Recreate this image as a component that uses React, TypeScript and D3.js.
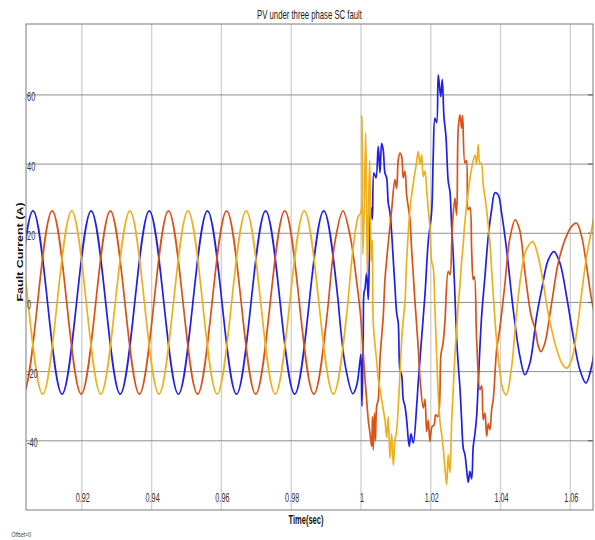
import React from 'react';
import * as d3 from 'd3';

const titleText = 'PV under three phase SC fault';
const xLabel = 'Time(sec)';
const yLabel = 'Fault Current (A)';
const offsetText = 'Offset=0';

const xTickValues = [0.92, 0.94, 0.96, 0.98, 1, 1.02, 1.04, 1.06];
const xTickLabels = ['0.92', '0.94', '0.96', '0.98', '1', '1.02', '1.04', '1.06'];
const yTickValues = [-40, -20, 0, 20, 40, 60];
const yTickLabels = ['-40', '-20', '0', '20', '40', '60'];

const seriesColors = ['#1f1fe6', '#d95319', '#edb120'];

// Phase A (blue) – steady state before the fault (peaks / zero crossings)
const phaseAPre: [number, number][] = [
  [0.90183, 0], [0.906, 26.5], [0.91017, 0], [0.91433, -26.5], [0.9185, 0], [0.92267, 26.5],
  [0.92683, 0], [0.931, -26.5], [0.93517, 0], [0.93933, 26.5], [0.9435, 0], [0.94767, -26.5],
  [0.95183, 0], [0.956, 26.5], [0.96017, 0], [0.96433, -26.5], [0.9685, 0], [0.97267, 26.5],
  [0.97683, 0], [0.981, -26.5], [0.98517, 0], [0.98933, 26.5], [0.9935, 0],
];
// Phase A (blue) – fault and recovery
const phaseAPost: [number, number][] = [
  [0.99558, -18.7], [0.99767, -26.4], [0.99877, -24], [0.99971, -17], [1.0, -15], [1.00029, -30],
  [1.00066, -9], [1.00086, 2.8], [1.00115, 4], [1.00163, 8.5], [1.00209, 0.8], [1.00238, 12],
  [1.00278, 27.7], [1.00324, 24], [1.00372, 37.5], [1.0043, 36], [1.00496, 45.1], [1.00544, 37.5],
  [1.00593, 46], [1.00639, 44], [1.00688, 37.4], [1.00736, 36], [1.00782, 28.7], [1.00831, 26],
  [1.0088, 20], [1.00926, 12.3], [1.00974, 4.6], [1.01023, -3.1], [1.01069, -6], [1.01117, -19.5],
  [1.01166, -21], [1.01212, -28.1], [1.01261, -30], [1.01309, -33.9], [1.01384, -41.6], [1.01433, -38],
  [1.01499, -40.6], [1.01596, -30], [1.01642, -23], [1.01739, -10.2], [1.01834, 2.2], [1.01928, 17.6],
  [1.02026, 26.3], [1.02072, 42.7], [1.0212, 53.3], [1.02169, 52], [1.02215, 65.8], [1.02284, 59.5],
  [1.0233, 64.4], [1.02378, 53.8], [1.02436, 48], [1.02501, 35], [1.0255, 32], [1.02599, 22],
  [1.02645, 13.8], [1.02693, 2], [1.02742, -10.3], [1.02788, -18], [1.02837, -24.7], [1.02885, -34],
  [1.02931, -42.1], [1.0298, -44], [1.03029, -48.4], [1.03074, -52], [1.03123, -48.8], [1.03172, -51],
  [1.03218, -41.6], [1.03266, -38], [1.03315, -32.9], [1.03361, -23.3], [1.03458, -4], [1.03553, 7.5],
  [1.03648, 19.1], [1.03745, 26.8], [1.0384, 31.7], [1.03934, 31.1], [1.04031, 25.8], [1.04175, 15.2],
  [1.04364, -2.1], [1.04556, -15.6], [1.04699, -20.9], [1.04842, -17.5], [1.05034, -4], [1.05178, 3.7],
  [1.05367, 12.3], [1.0553, 14.7], [1.05702, 11.4], [1.05894, 1.7], [1.06083, -9.8], [1.06275, -19.5],
  [1.06447, -23.3], [1.0661, -18.5], [1.06733, -10],
];

// Phase B (orange)
const phaseBPre: [number, number][] = [
  [0.899, 0], [0.90317, -26.5], [0.90733, 0], [0.9115, 26.5], [0.91567, 0], [0.91983, -26.5],
  [0.924, 0], [0.92817, 26.5], [0.93233, 0], [0.9365, -26.5], [0.94067, 0], [0.94483, 26.5],
  [0.949, 0], [0.95317, -26.5], [0.95733, 0], [0.9615, 26.5], [0.96567, 0], [0.96983, -26.5],
  [0.974, 0], [0.97817, 26.5], [0.98233, 0], [0.9865, -26.5], [0.99067, 0],
];
const phaseBPost: [number, number][] = [
  [0.99275, 18.7], [0.99483, 26.5], [0.99685, 19.5], [0.99877, 6], [1.0, -5], [1.00029, -9],
  [1.00066, -14.6], [1.00115, -22], [1.00163, -28.1], [1.00209, -34], [1.00258, -37.7], [1.00307, -41.6],
  [1.0033, -33], [1.00352, -42.6], [1.00387, -32], [1.00415, -40], [1.0045, -30], [1.00496, -28.1],
  [1.00544, -16.6], [1.00593, -9.8], [1.00639, -4], [1.00688, 6.6], [1.00782, 17.2], [1.00831, 22],
  [1.0088, 26.8], [1.00974, 35.5], [1.01023, 33], [1.01069, 41.2], [1.01117, 43.2], [1.01166, 42.2],
  [1.01212, 36], [1.01261, 38], [1.01309, 31], [1.01355, 27.7], [1.01404, 24], [1.01453, 15.2],
  [1.01499, 8], [1.01547, 0.3], [1.01642, -13.2], [1.01691, -21.8], [1.01785, -30.5], [1.01834, -28],
  [1.01883, -37.3], [1.01928, -34], [1.01977, -40.2], [1.02034, -36], [1.021, -35.3], [1.0214, -32.5],
  [1.02206, -33], [1.02292, -15.1], [1.0235, -12], [1.02407, -5.5], [1.02501, 9], [1.0255, 8],
  [1.02616, 21.5], [1.02693, 30.2], [1.02742, 25.3], [1.02788, 50.4], [1.02837, 54.2], [1.02885, 50.4],
  [1.02914, 54], [1.0298, 40.3], [1.03023, 41], [1.03074, 26.8], [1.03123, 27.5], [1.03172, 15.2],
  [1.03218, 6.6], [1.03252, 7.5], [1.03315, -10.8], [1.0341, -25.2], [1.03458, -24], [1.03504, -33.9],
  [1.03553, -32], [1.03602, -38.7], [1.03648, -35], [1.03696, -36.8], [1.03745, -31], [1.03791, -28.1],
  [1.03888, -13.7], [1.03974, -7.9], [1.04117, 4.6], [1.04261, 18.1], [1.04421, 23.9], [1.04547, 21],
  [1.0469, 9.5], [1.0488, -4], [1.04986, -7.5], [1.0508, -12.5], [1.05158, -14.2], [1.05272, -11.7],
  [1.05464, -0.2], [1.05653, 11.4], [1.05845, 18.1], [1.06037, 22], [1.0618, 22.9], [1.06324, 19.1],
  [1.06467, 10.4], [1.0661, 0.8], [1.06733, -5],
];

// Phase C (yellow)
const phaseCPre: [number, number][] = [
  [0.89627, 0], [0.90043, 26.5], [0.9046, 0], [0.90877, -26.5], [0.91293, 0], [0.9171, 26.5],
  [0.92127, 0], [0.92543, -26.5], [0.9296, 0], [0.93377, 26.5], [0.93793, 0], [0.9421, -26.5],
  [0.94627, 0], [0.95043, 26.5], [0.9546, 0], [0.95877, -26.5], [0.96293, 0], [0.9671, 26.5],
  [0.97127, 0], [0.97543, -26.5], [0.9796, 0], [0.98377, 26.5], [0.98793, 0], [0.9921, -26.5],
  [0.99627, 0],
];
const phaseCPost: [number, number][] = [
  [0.99779, 16], [0.99923, 24.9], [1.0, 26], [1.00023, 54], [1.00052, 14], [1.00092, 26],
  [1.00138, 49], [1.00181, 8], [1.00218, 28], [1.00252, 41], [1.00292, 12], [1.00324, 18],
  [1.00352, -6], [1.00401, -12], [1.0045, -17], [1.00496, -22], [1.00544, -25], [1.00593, -28],
  [1.00639, -31], [1.00688, -34], [1.00736, -39], [1.00782, -33], [1.00831, -45], [1.0088, -38],
  [1.00926, -47], [1.00974, -40], [1.01023, -37], [1.01069, -30], [1.01117, -21], [1.01166, -11],
  [1.01212, -5], [1.01261, 0], [1.01309, 12], [1.01404, 26.8], [1.01499, 34.5], [1.01576, 39.3],
  [1.01642, 43.6], [1.01691, 40], [1.01739, 42.7], [1.01785, 36.4], [1.01834, 38], [1.01883, 32.6],
  [1.01928, 26.8], [1.01977, 22], [1.02026, 11.8], [1.02072, 10], [1.0212, -1.6], [1.02169, -15.1],
  [1.02215, -26.7], [1.02264, -34.4], [1.02312, -38], [1.02358, -42.1], [1.02407, -47.9], [1.02456, -52.7],
  [1.02501, -44], [1.0255, -49.3], [1.02599, -34.4], [1.02645, -25], [1.02693, -15.1], [1.02742, -8],
  [1.02788, -0.7], [1.02837, 5], [1.02885, 11.8], [1.02931, 17], [1.0298, 23.4], [1.03074, 32],
  [1.03172, 38.8], [1.03266, 42.7], [1.03315, 40], [1.03361, 45.6], [1.0341, 40], [1.03447, 40.3],
  [1.03504, 34], [1.0359, 27.7], [1.03688, 18.1], [1.03782, 3.7], [1.03877, -9.8], [1.03974, -19.5],
  [1.04069, -25.2], [1.04164, -26.7], [1.04307, -19.5], [1.0445, -4], [1.04593, 8.5], [1.04736, 15.2],
  [1.04928, 17.6], [1.05052, 14.3], [1.05178, 8.5], [1.05367, -3.1], [1.05559, -11.7], [1.05751, -17.5],
  [1.05894, -19], [1.06037, -16.6], [1.0618, -8.8], [1.06324, 2.7], [1.06467, 13.3], [1.06627, 22],
  [1.06733, 28],
];

const W = 595;
const H = 540;
const plot = { left: 26, right: 593, top: 24, bottom: 510 };
const font = 'Liberation Sans, Arial, Helvetica, sans-serif';

export default function App() {
  const x = d3.scaleLinear().domain([0.904, 1.0665]).range([plot.left, plot.right]);
  const y = d3.scaleLinear().domain([-60, 80.5]).range([plot.bottom, plot.top]);

  const smooth = d3
    .line<[number, number]>()
    .x((d) => x(d[0]))
    .y((d) => y(d[1]))
    .curve(d3.curveNatural);
  const rough = d3
    .line<[number, number]>()
    .x((d) => x(d[0]))
    .y((d) => y(d[1]))
    .curve(d3.curveCatmullRom.alpha(0.5));

  const series = [
    { pre: phaseAPre, post: phaseAPost, color: seriesColors[0] },
    { pre: phaseBPre, post: phaseBPost, color: seriesColors[1] },
    { pre: phaseCPre, post: phaseCPost, color: seriesColors[2] },
  ];

  return (
    <svg
      width={W}
      height={H}
      style={{ position: 'absolute', left: 0, top: 0, background: '#fff' }}
    >
      <defs>
        <clipPath id="plotClip">
          <rect x={plot.left} y={plot.top} width={plot.right - plot.left} height={plot.bottom - plot.top} />
        </clipPath>
      </defs>
      <rect x={0} y={0} width={W} height={H} fill="#fff" />

      {/* vertical grid */}
      {xTickValues.map((v) => (
        <line key={'vx' + v} x1={x(v)} x2={x(v)} y1={plot.top} y2={plot.bottom} stroke="#d2d2d2" strokeWidth={1.4} />
      ))}
      {/* horizontal grid */}
      {yTickValues.map((v) => (
        <line key={'hy' + v} x1={plot.left} x2={plot.right} y1={y(v)} y2={y(v)} stroke="#8f8f8f" strokeWidth={1} />
      ))}
      {yTickValues.map((v) => (
        <line key={'rt' + v} x1={plot.right - 5} x2={plot.right} y1={y(v)} y2={y(v)} stroke="#555" strokeWidth={1} />
      ))}

      {/* curves */}
      <g clipPath="url(#plotClip)" fill="none" strokeLinejoin="round" strokeLinecap="round">
        {series.map((s, i) => (
          <g key={'s' + i}>
            <path d={smooth(s.pre) || ''} stroke={s.color} strokeWidth={1.7} />
            <path d={rough([s.pre[s.pre.length - 1], ...s.post]) || ''} stroke={s.color} strokeWidth={1.7} />
          </g>
        ))}
      </g>

      {/* frame */}
      <rect
        x={plot.left}
        y={plot.top}
        width={plot.right - plot.left}
        height={plot.bottom - plot.top}
        fill="none"
        stroke="#7a7a7a"
        strokeWidth={1}
      />

      {/* y tick labels */}
      {yTickValues.map((v, i) => (
        <text
          key={'yl' + v}
          transform={`translate(${plot.left + 1},${y(v) + 6.5}) scale(0.62,1)`}
          fontFamily={font}
          fontSize={12}
          fill="#333"
        >
          {yTickLabels[i]}
        </text>
      ))}
      {/* x tick labels */}
      {xTickValues.map((v, i) => (
        <text
          key={'xl' + v}
          transform={`translate(${x(v) + 1},${502}) scale(0.56,1)`}
          fontFamily={font}
          fontSize={13}
          textAnchor="middle"
          fill="#333"
        >
          {xTickLabels[i]}
        </text>
      ))}

      {/* title */}
      <text
        transform={`translate(${(plot.left + plot.right) / 2},19) scale(0.62,1)`}
        fontFamily={font}
        fontSize={12.5}
        textAnchor="middle"
        fill="#1a1a1a"
      >
        {titleText}
      </text>
      {/* x label */}
      <text
        transform={`translate(306,524) scale(0.6,1)`}
        fontFamily={font}
        fontSize={12.5}
        fontWeight="bold"
        textAnchor="middle"
        fill="#111"
      >
        {xLabel}
      </text>
      {/* y label */}
      <text
        transform={`translate(22.5,252) scale(0.7,1) rotate(-90)`}
        fontFamily={font}
        fontSize={12.5}
        fontWeight="bold"
        textAnchor="middle"
        fill="#111"
      >
        {yLabel}
      </text>
      {/* offset note */}
      <text
        transform={`translate(11.5,536.5) scale(0.65,1)`}
        fontFamily={font}
        fontSize={8}
        fill="#444"
      >
        {offsetText}
      </text>
    </svg>
  );
}
